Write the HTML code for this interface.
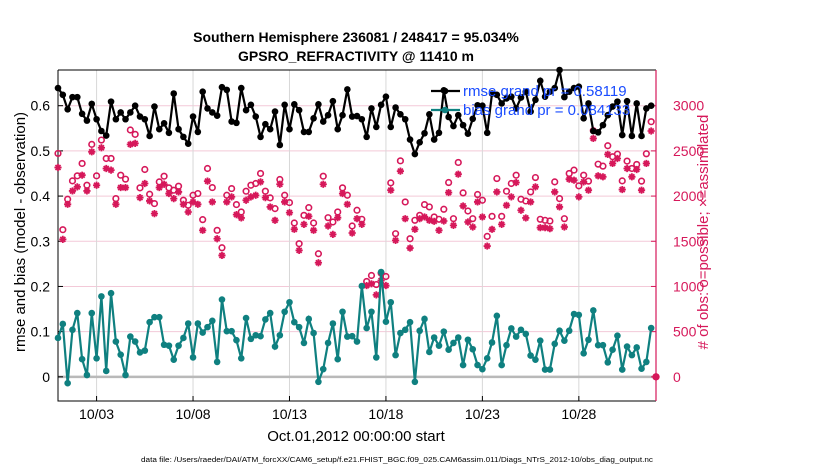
<!DOCTYPE html>
<html><head><meta charset="utf-8"><style>
body{margin:0;background:#fff;width:830px;height:470px;overflow:hidden;font-family:"Liberation Sans",sans-serif}
svg text{font-family:"Liberation Sans",sans-serif}
</style></head><body>
<svg id="chart" width="830" height="470" xmlns="http://www.w3.org/2000/svg">
<g id="grid"></g>
<g id="axes"></g>
<g id="marks"></g>
<text x="356" y="42" text-anchor="middle" font-size="14" font-weight="bold">Southern Hemisphere 236081 / 248417 = 95.034%</text>
<text x="356" y="61" text-anchor="middle" font-size="14" font-weight="bold">GPSRO_REFRACTIVITY @ 11410 m</text>
<text transform="translate(25,232) rotate(-90)" text-anchor="middle" font-size="15">rmse and bias (model - observation)</text>
<text transform="translate(708,232) rotate(-90)" text-anchor="middle" font-size="15" fill="#d6185a">#  of obs: o=possible; ×=assimilated</text>
<text x="356" y="441" text-anchor="middle" font-size="15">Oct.01,2012 00:00:00 start</text>
<text x="397" y="462" text-anchor="middle" font-size="7" textLength="512" lengthAdjust="spacingAndGlyphs">data file: /Users/raeder/DAI/ATM_forcXX/CAM6_setup/f.e21.FHIST_BGC.f09_025.CAM6assim.011/Diags_NTrS_2012-10/obs_diag_output.nc</text>
</svg>
<script>
const rmse=[0.639,0.624,0.592,0.619,0.619,0.582,0.567,0.604,0.570,0.544,0.534,0.609,0.570,0.585,0.570,0.585,0.600,0.576,0.570,0.533,0.598,0.548,0.561,0.540,0.627,0.548,0.531,0.516,0.576,0.542,0.631,0.594,0.585,0.578,0.641,0.635,0.565,0.562,0.639,0.590,0.602,0.576,0.531,0.559,0.548,0.587,0.513,0.602,0.548,0.603,0.590,0.542,0.542,0.572,0.603,0.565,0.579,0.610,0.548,0.579,0.636,0.576,0.577,0.570,0.531,0.594,0.553,0.602,0.620,0.553,0.596,0.581,0.570,0.525,0.493,0.519,0.539,0.581,0.525,0.540,0.634,0.575,0.555,0.579,0.557,0.538,0.571,0.601,0.600,0.540,0.627,0.624,0.605,0.616,0.620,0.594,0.618,0.631,0.587,0.613,0.655,0.620,0.631,0.639,0.679,0.619,0.631,0.639,0.642,0.572,0.605,0.544,0.541,0.557,0.579,0.598,0.609,0.535,0.610,0.533,0.605,0.533,0.594,0.600];
const bias=[0.086,0.117,-0.014,0.104,0.141,0.039,0.004,0.141,0.041,0.178,0.013,0.185,0.078,0.049,0.004,0.089,0.078,0.054,0.058,0.121,0.132,0.132,0.071,0.069,0.038,0.069,0.086,0.118,0.043,0.118,0.098,0.110,0.124,0.033,0.171,0.101,0.101,0.081,0.041,0.130,0.084,0.092,0.090,0.127,0.141,0.067,0.092,0.144,0.165,0.121,0.110,0.075,0.128,0.097,-0.011,0.017,0.075,0.118,0.039,0.144,0.089,0.090,0.078,0.201,0.108,0.144,0.043,0.232,0.122,0.165,0.048,0.097,0.104,0.121,-0.011,0.102,0.128,0.055,0.087,0.069,0.100,0.060,0.075,0.087,0.026,0.082,0.061,0.026,0.017,0.041,0.076,0.135,0.026,0.070,0.107,0.089,0.104,0.095,0.047,0.038,0.080,0.016,0.016,0.073,0.102,0.080,0.102,0.139,0.137,0.052,0.082,0.147,0.070,0.070,0.032,0.060,0.091,0.016,0.067,0.048,0.065,0.018,0.033,0.108];
const possible=[2472,1628,1965,2168,2224,2361,2120,2572,2224,2620,2416,2416,1972,2231,2187,2731,2683,2091,2294,2020,1917,2157,2220,2091,2065,2109,1954,1898,2009,2028,1739,2305,2094,1621,1428,2009,2083,1906,1824,2054,2120,2139,2250,2054,1980,1861,2183,2009,1928,1702,1473,1787,1872,1702,1362,2220,1761,1713,1824,2091,2009,1669,1843,1743,1055,1121,1021,1147,1110,2146,1584,2390,1935,1528,1732,1787,1906,1880,1769,1743,1854,2150,1750,2372,2035,1835,1750,2017,1954,1554,1776,2194,1776,2054,2139,2231,1965,1946,2046,2205,1743,1732,1724,2157,1972,1750,2250,2287,2113,2231,2165,2723,2353,2331,2557,2435,2464,2168,2387,2305,2350,2165,2468,2823,0];
const assimilated=[2316,1521,1909,2057,2102,2231,2057,2490,2120,2535,2305,2287,1909,2094,2094,2572,2583,1983,2139,1946,1806,2094,2131,2028,1972,2046,1909,1824,1935,1909,1621,2165,1935,1528,1343,1935,1991,1795,1758,1954,1991,2009,2157,1983,1880,1732,2131,1935,1817,1632,1399,1687,1776,1621,1262,2131,1669,1576,1761,2028,1909,1591,1750,1687,1010,1029,907,1066,1010,2065,1510,2276,1750,1425,1632,1750,1769,1732,1721,1621,1724,2039,1676,2242,1891,1713,1658,1935,1769,1447,1632,2046,1687,1898,1991,2150,1843,1758,1935,2102,1650,1650,1639,2046,1880,1658,2187,2176,1991,2157,2065,2638,2224,2213,2461,2361,2416,2072,2305,2213,2294,2065,2361,2720,0];
const yTicks=[0,0.1,0.2,0.3,0.4,0.5,0.6];
const yTickLabels=["0","0.1","0.2","0.3","0.4","0.5","0.6"];
const y2Ticks=[0,500,1000,1500,2000,2500,3000];
const y2TickLabels=["0","500","1000","1500","2000","2500","3000"];
const xTickDays=[2,7,12,17,22,27];
const xTickLabels=["10/03","10/08","10/13","10/18","10/23","10/28"];
const legendLabels=["rmse grand pr = 0.58119","bias grand pr = 0.084133"];

const L=58,R=656,T=70,B=401;
const xmin=0,xmax=31,ymin=-0.0535,ymax=0.679;
const X=d=>L+(d-xmin)/(xmax-xmin)*(R-L);
const Y=v=>T+(ymax-v)/(ymax-ymin)*(B-T);
const Y2=c=>Y(c/5000);
const NS='http://www.w3.org/2000/svg';
function mk(tag,attrs,parent){const e=document.createElementNS(NS,tag);for(const k in attrs)e.setAttribute(k,attrs[k]);parent.appendChild(e);return e;}
const grid=document.getElementById('grid'),axes=document.getElementById('axes'),marks=document.getElementById('marks');
const RED='#d6185a';

yTicks.forEach((v,i)=>{
  const g=mk('line',{x1:L,x2:R,y1:Y(v),y2:Y(v),stroke:'#f3c9d8','stroke-width':1},grid);
  
  
  const t=mk('text',{x:L-8,y:Y(v)+5,'text-anchor':'end','font-size':14},axes);
  t.textContent=yTickLabels[i];
  
  
  const tk=mk('line',{x1:L,x2:L+5,y1:Y(v),y2:Y(v),stroke:'#000'},axes);
  
  
});
y2Ticks.forEach((c,i)=>{
  const t=mk('text',{x:R+17,y:Y2(c)+5,'text-anchor':'start','font-size':14,fill:RED},axes);
  t.textContent=y2TickLabels[i];
  
  
  const tk=mk('line',{x1:R-5,x2:R,y1:Y2(c),y2:Y2(c),stroke:RED},axes);
  
  
});
xTickDays.forEach((d,i)=>{
  const g=mk('line',{x1:X(d),x2:X(d),y1:T,y2:B,stroke:'#d8d8d8','stroke-width':1},grid);
  
  
  const tk=mk('line',{x1:X(d),x2:X(d),y1:B,y2:B-5,stroke:'#000'},axes);
  
  
  const t=mk('text',{x:X(d),y:B+18,'text-anchor':'middle','font-size':14},axes);
  t.textContent=xTickLabels[i];
  
  
});
const zl=mk('line',{x1:L,x2:R,y1:Y(0),y2:Y(0),stroke:'#b9b9b9','stroke-width':2.5},grid);


const la=mk('path',{d:`M${L},${T}H${R}M${L},${T}V${B}H${R}`,stroke:'#000',fill:'none','stroke-width':1},axes);


const ra=mk('line',{x1:R,x2:R,y1:T,y2:B,stroke:RED,'stroke-width':1.2},axes);



const dx=i=>X(i*0.25);
// observation counts
possible.forEach((c,i)=>{
  const o=mk('circle',{cx:dx(i),cy:Y2(c),r:2.8,fill:'none',stroke:RED,'stroke-width':1.6},marks);
  
  
});
assimilated.forEach((c,i)=>{
  const x=dx(i),y=Y2(c),s=3.6,q=s*0.7;
  const a=mk('path',{d:`M${x-s},${y}H${x+s}M${x},${y-s}V${y+s}M${x-q},${y-q}L${x+q},${y+q}M${x-q},${y+q}L${x+q},${y-q}`,stroke:RED,'stroke-width':1.8},marks);
  
  
});
function series(vals,color,name){
  const p=mk('polyline',{points:vals.map((v,i)=>dx(i)+','+Y(v)).join(' '),fill:'none',stroke:color,'stroke-width':2.2},marks);
  
  
  vals.forEach((v,i)=>{
    const c=mk('circle',{cx:dx(i),cy:Y(v),r:3.3,fill:color},marks);
    
    
  });
}
series(rmse,'#000','rmse');
series(bias,'#0f8080','bias');

// legend
const leg=mk('g',{},marks);


[['#000',91],['#0f8080',110]].forEach((s,i)=>{
  const l=mk('line',{x1:431,x2:460,y1:s[1],y2:s[1],stroke:s[0],'stroke-width':2.2},leg);
  
  
  const c=mk('circle',{cx:445,cy:s[1],r:3.3,fill:s[0]},leg);
  
  
  const t=mk('text',{x:463,y:s[1]+5,'font-size':15,fill:'#1a4cff'},leg);
  t.textContent=legendLabels[i];
  
  
});
</script>
</body></html>
